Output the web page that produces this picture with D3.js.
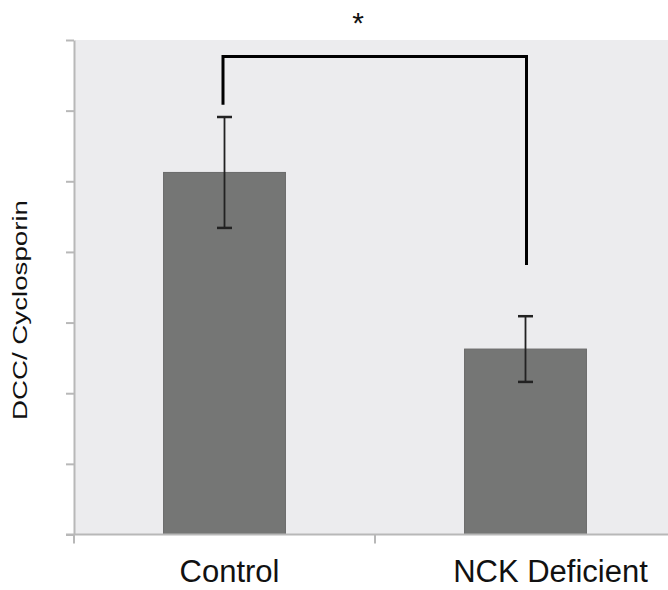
<!DOCTYPE html>
<html>
<head>
<meta charset="utf-8">
<script src="https://cdn.jsdelivr.net/npm/d3@7"></script>
<style>
  body { margin: 0; background: #fff; }
  text { font-family: "Liberation Sans", Arial, sans-serif; }
</style>
</head>
<body>
<div id="chart"></div>
<script>
// group names and values (y has no labels)
var groups = ["Control", "NCK Deficient"];
var means = [1.025, 0.525];
var errors = [0.157, 0.093];
var yTicks = [0, 0.2, 0.4, 0.6, 0.8, 1.0, 1.2, 1.4];
// significance bracket: leg bottoms and top, in data units
var bracketLegs = [1.217, 0.763];
var bracketTop = 1.353;
var sigLabel = "*";

var width = 668, height = 590;
var margin = {top: 40, right: -8, bottom: 55.5, left: 74};

var svg = d3.select("#chart").append("svg")
    .attr("width", width)
    .attr("height", height);

var x = d3.scaleBand()
    .domain(groups)
    .range([margin.left, width - margin.right])
    .padding(0);

var y = d3.scaleLinear()
    .domain([0, 1.4])
    .range([height - margin.bottom, margin.top]);

var barW = x.bandwidth() * 0.405;

// plot background
svg.append("rect")
    .attr("x", margin.left + 1)
    .attr("y", y(1.4))
    .attr("width", width - margin.left)
    .attr("height", y(0) - y(1.4))
    .attr("fill", "#ececee");

// bars
svg.selectAll(".bar")
    .data(groups)
    .enter().append("rect")
    .attr("class", "bar")
    .attr("x", function(d) { return x(d) + x.bandwidth() / 2 - barW / 2; })
    .attr("y", function(d, i) { return y(means[i]); })
    .attr("width", barW)
    .attr("height", function(d, i) { return y(0) - y(means[i]); })
    .attr("fill", "#757675")
    .attr("stroke", "#6a6a6a")
    .attr("stroke-width", 1);

// error bars
var eb = svg.selectAll(".err")
    .data(groups)
    .enter().append("g")
    .attr("class", "err")
    .attr("stroke", "#222")
    .attr("stroke-width", 2);

eb.append("line")
    .attr("x1", function(d) { return x(d) + x.bandwidth() / 2; })
    .attr("x2", function(d) { return x(d) + x.bandwidth() / 2; })
    .attr("y1", function(d, i) { return y(means[i] + errors[i]); })
    .attr("y2", function(d, i) { return y(means[i] - errors[i]); })
    .attr("stroke-width", 1.8);

[1, -1].forEach(function(s) {
  eb.append("line")
      .attr("x1", function(d) { return x(d) + x.bandwidth() / 2 - 7.5; })
      .attr("x2", function(d) { return x(d) + x.bandwidth() / 2 + 7.5; })
      .attr("y1", function(d, i) { return y(means[i] + s * errors[i]); })
      .attr("y2", function(d, i) { return y(means[i] + s * errors[i]); })
      .attr("stroke-width", 2.5);
});

// y axis
var yAxis = svg.append("g")
    .attr("transform", "translate(" + margin.left + ",0)")
    .call(d3.axisLeft(y).tickValues(yTicks).tickSize(8).tickSizeOuter(0).tickFormat(""));

// x axis, ticks fall on the band edges
var edges = groups.map(function(d) { return x(d); }).concat([x.range()[1]]);
var xAxis = svg.append("g")
    .attr("transform", "translate(0," + y(0) + ")");
xAxis.append("line")
    .attr("x1", margin.left - 8)
    .attr("x2", width)
    .attr("y1", 0).attr("y2", 0);
xAxis.selectAll(".xt")
    .data(edges)
    .enter().append("line")
    .attr("class", "xt")
    .attr("x1", function(d) { return d; })
    .attr("x2", function(d) { return d; })
    .attr("y1", 0).attr("y2", 9);

svg.selectAll(".domain, .tick line, g line")
    .filter(function() { return !this.closest(".err"); })
    .attr("stroke", "#b8b8b8")
    .attr("stroke-width", 2);

// category labels
var labelShift = [5, 25];
svg.selectAll(".xl")
    .data(groups)
    .enter().append("text")
    .attr("class", "xl")
    .attr("x", function(d, i) { return x(d) + x.bandwidth() / 2 + labelShift[i]; })
    .attr("y", 582)
    .attr("text-anchor", "middle")
    .style("font-size", "31px")
    .attr("fill", "#111")
    .text(function(d) { return d; });

// y axis title
svg.append("text")
    .attr("transform", "translate(27,310) rotate(-90)")
    .attr("text-anchor", "middle")
    .attr("textLength", 220)
    .attr("lengthAdjust", "spacingAndGlyphs")
    .style("font-size", "20px")
    .attr("fill", "#111")
    .text("DCC/ Cyclosporin");

// significance bracket
var xl = x(groups[0]) + x.bandwidth() / 2 - 1.5;
var xr = x(groups[1]) + x.bandwidth() / 2 + 1;
svg.append("path")
    .attr("d", "M" + xl + "," + y(bracketLegs[0]) +
               "V" + y(bracketTop) +
               "H" + xr +
               "V" + y(bracketLegs[1]))
    .attr("fill", "none")
    .attr("stroke", "#000")
    .attr("stroke-width", 3);

svg.append("text")
    .attr("x", 358)
    .attr("y", 33)
    .attr("text-anchor", "middle")
    .style("font-size", "30px")
    .attr("fill", "#111")
    .text(sigLabel);
</script>
</body>
</html>
